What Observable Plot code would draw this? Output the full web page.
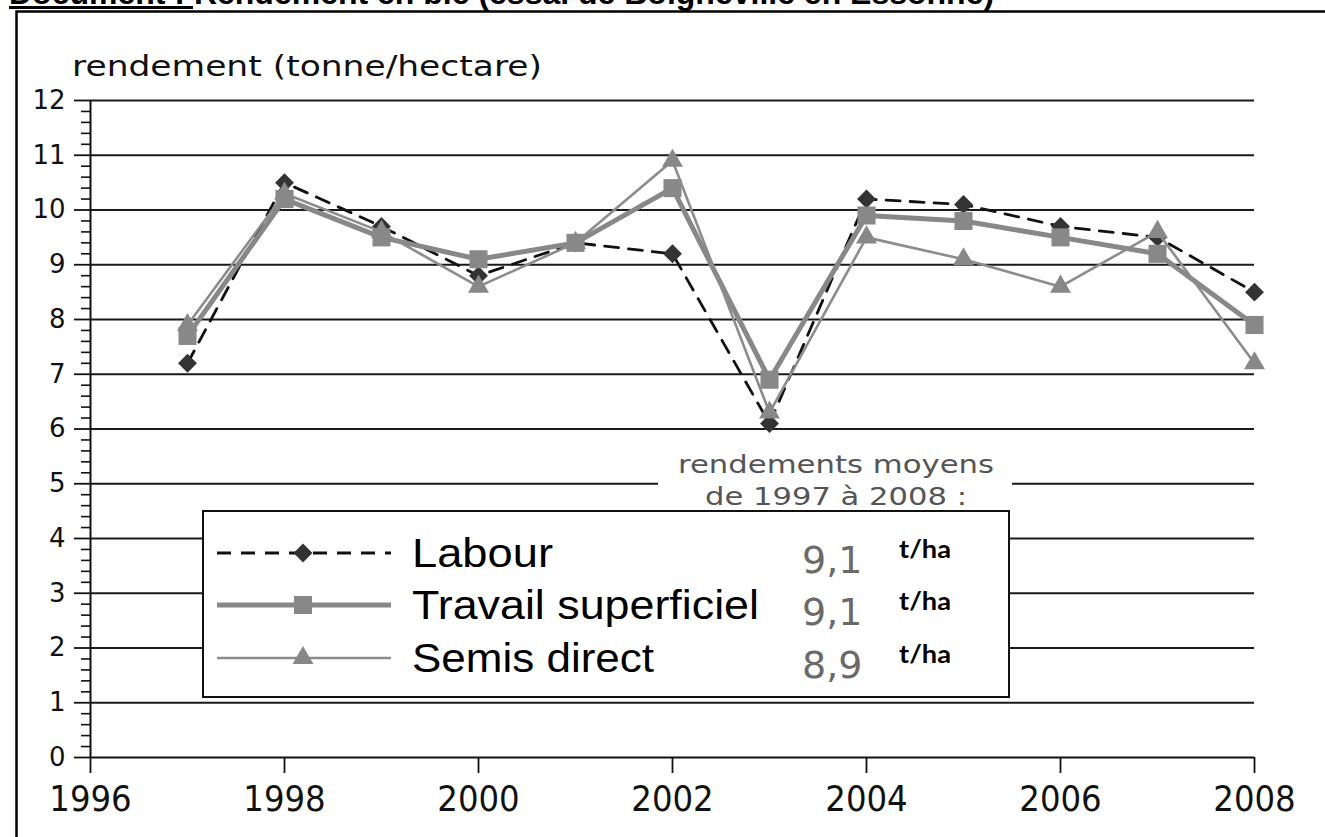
<!DOCTYPE html>
<html><head><meta charset="utf-8">
<script src="https://cdn.jsdelivr.net/npm/d3@7"></script>
<script src="https://cdn.jsdelivr.net/npm/@observablehq/plot@0.6"></script>
<style>
html,body{margin:0;padding:0;background:#fff;overflow:hidden;}
#chart{position:relative;width:1325px;height:837px;}
</style></head><body><div id="chart"></div>
<script>
// ---- data ----
const years = [1997,1998,1999,2000,2001,2002,2003,2004,2005,2006,2007,2008];
const labour = [7.2,10.5,9.7,8.8,9.4,9.2,6.1,10.2,10.1,9.7,9.5,8.5];
const travail = [7.7,10.2,9.5,9.1,9.4,10.4,6.9,9.9,9.8,9.5,9.2,7.9];
const semis = [7.9,10.3,9.6,8.6,9.4,10.9,6.3,9.5,9.1,8.6,9.6,7.2];
const seriesNames = ["Labour","Travail superficiel","Semis direct"];
const moyennes = ["9,1","9,1","8,9"];
const unite = "t/ha";
const yTicks = d3.range(0,13);
const yMinorTicks = d3.range(0,61).filter(i => i % 5 !== 0).map(i => i/5);
const xTicks = [1996,1998,2000,2002,2004,2006,2008];
const yAxisTitle = "rendement (tonne/hectare)";
const docTitleA = "Document :";
const docTitleB = " Rendement en blé (essai de Boigneville en Essonne)";
const noteLines = ["rendements moyens","de 1997 à 2008 :"];

const rows = years.flatMap((year,i) => [
  {year, value: labour[i], serie: seriesNames[0]},
  {year, value: travail[i], serie: seriesNames[1]},
  {year, value: semis[i], serie: seriesNames[2]}
]);
const bySerie = s => rows.filter(d => d.serie === s);

const plot = Plot.plot({
  width: 1325, height: 837,
  marginLeft: 90, marginRight: 71, marginTop: 100, marginBottom: 80,
  style: {fontFamily: "DejaVu Sans", background: "white", color: "#111", overflow: "visible"},
  x: {domain: [1996, 2008]},
  y: {domain: [0, 12]},
  marks: [
    Plot.ruleY(yTicks.filter(v => v > 0), {stroke: "#1a1a1a", strokeWidth: 2}),
    Plot.axisY(yMinorTicks, {tickSize: 9, tickFormat: () => "", label: null, strokeWidth: 1.6}),
    Plot.axisY(yTicks, {tickSize: 16, tickPadding: 9, fontSize: 26, tickFormat: d => String(d), label: null, strokeWidth: 1.8}),
    Plot.axisX(xTicks, {tickSize: 16, tickPadding: 12, fontSize: 36, fontFamily: "DejaVu Sans Condensed, DejaVu Sans", tickFormat: d => String(d), label: null, strokeWidth: 1.8}),
    Plot.ruleX([1996], {y1: 0, y2: 12, stroke: "#111", strokeWidth: 2}),
    Plot.ruleY([0], {stroke: "#111", strokeWidth: 2}),
    Plot.line(bySerie(seriesNames[0]), {x: "year", y: "value", stroke: "#111", strokeWidth: 2.8, strokeDasharray: "14,10"}),
    Plot.dot(bySerie(seriesNames[0]), {x: "year", y: "value", symbol: "diamond2", r: 8.5, fill: "#333", stroke: "none"}),
    Plot.line(bySerie(seriesNames[1]), {x: "year", y: "value", stroke: "#888", strokeWidth: 5}),
    Plot.dot(bySerie(seriesNames[1]), {x: "year", y: "value", symbol: "square2", r: 11.5, fill: "#888", stroke: "none"}),
    Plot.line(bySerie(seriesNames[2]), {x: "year", y: "value", stroke: "#8c8c8c", strokeWidth: 2.6}),
    Plot.dot(bySerie(seriesNames[2]), {x: "year", y: "value", symbol: "triangle2", r: 10, fill: "#888", stroke: "none"})
  ]
});
document.getElementById("chart").appendChild(plot);

// ---- decorations (page frame, titles, legend) ----
const svg = d3.select(plot);
const g = svg.append("g").attr("text-anchor", "start");
g.append("path").attr("d", "M16.5,837V11.5H1325").attr("fill", "none").attr("stroke", "#000").attr("stroke-width", 2.5);
const t = g.append("text").attr("x", 9).attr("y", 4)
  .attr("font-family", "Liberation Sans, Arial, sans-serif").attr("font-weight", "bold").attr("font-size", 32).attr("fill", "#000");
t.append("tspan").text(docTitleA);
t.append("tspan").text(docTitleB);
g.append("rect").attr("x", 9).attr("y", 6).attr("width", 184).attr("height", 3).attr("fill", "#000");

g.append("text").attr("x", 72).attr("y", 76).attr("font-family", "DejaVu Sans").attr("font-size", 28)
  .attr("textLength", 470).attr("lengthAdjust", "spacingAndGlyphs").attr("fill", "#111").text(yAxisTitle);

// note above legend
g.append("rect").attr("x", 658).attr("y", 444).attr("width", 354).attr("height", 67).attr("fill", "#fff");
const noteLen = [316, 262];
noteLines.forEach((s, i) => g.append("text").attr("x", 836 - noteLen[i] / 2).attr("y", 473 + i * 32)
  .attr("textLength", noteLen[i]).attr("lengthAdjust", "spacingAndGlyphs")
  .attr("font-family", "DejaVu Sans").attr("font-size", 25).attr("fill", "#555").text(s));

// legend box
g.append("rect").attr("x", 203).attr("y", 511).attr("width", 806).attr("height", 186)
  .attr("fill", "#fff").attr("stroke", "#111").attr("stroke-width", 2);
const rowY = [553, 605, 658];
const labelLen = [141, 347, 242];
const sym = [d3.symbolDiamond2, d3.symbolSquare2, d3.symbolTriangle2];
const symR = [8.5, 11.5, 10];
const symFill = ["#333", "#888", "#888"];
const lineStyle = [
  {stroke: "#111", w: 2.8, dash: "14,10"},
  {stroke: "#888", w: 5, dash: null},
  {stroke: "#8c8c8c", w: 2.6, dash: null}
];
seriesNames.forEach((name, i) => {
  const y = rowY[i];
  const ln = g.append("line").attr("x1", 217).attr("x2", 391).attr("y1", y).attr("y2", y)
    .attr("stroke", lineStyle[i].stroke).attr("stroke-width", lineStyle[i].w);
  if (lineStyle[i].dash) ln.attr("stroke-dasharray", lineStyle[i].dash);
  g.append("path").attr("transform", `translate(303,${y})`)
    .attr("d", d3.symbol(sym[i], symR[i] * symR[i] * Math.PI)()).attr("fill", symFill[i]);
  g.append("text").attr("x", 412).attr("y", y + 14).attr("font-family", "Liberation Sans, Arial").attr("font-size", 40)
    .attr("textLength", labelLen[i]).attr("lengthAdjust", "spacingAndGlyphs")
    .attr("fill", "#000").text(name);
  g.append("text").attr("x", 802).attr("y", y + 20).attr("font-family", "DejaVu Sans").attr("font-size", 38)
    .attr("fill", "#6a6a6a").text(moyennes[i]);
  g.append("text").attr("x", 899).attr("y", y + 5).attr("font-family", "Lato, Open Sans").attr("font-weight", "bold").attr("font-size", 24)
    .attr("textLength", 52).attr("lengthAdjust", "spacingAndGlyphs")
    .attr("fill", "#000").text(unite);
});
</script>
</body></html>
